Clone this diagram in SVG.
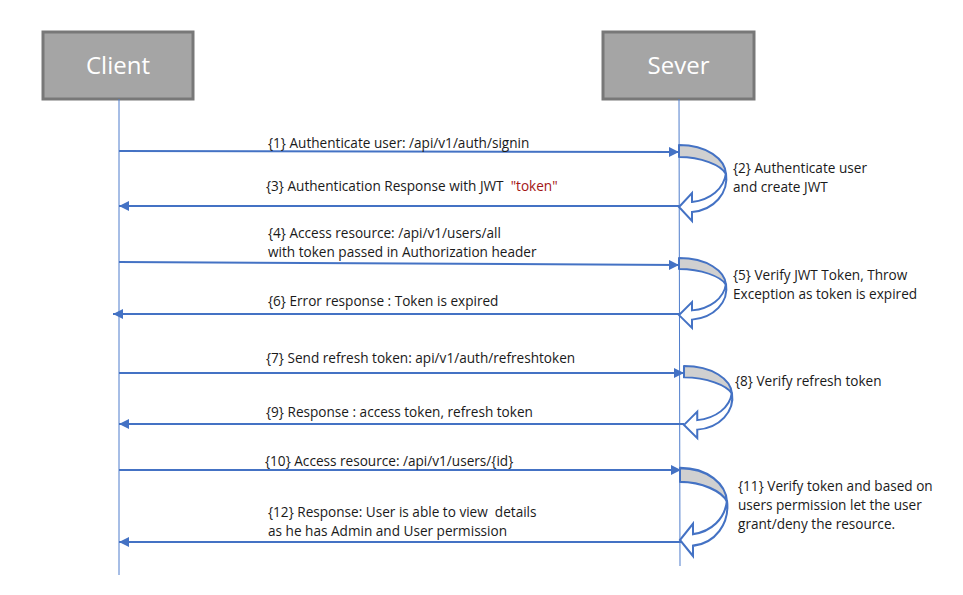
<svg xmlns="http://www.w3.org/2000/svg" width="963" height="595" viewBox="0 0 963 595">
<style>
.box{fill:#a5a5a5;stroke:#787878;stroke-width:3}
.hd{font-family:"Open Sans","Liberation Sans",Arial,sans-serif;font-size:24px;fill:#ffffff;text-anchor:middle}
.life{stroke:#4f7dcc;stroke-width:1}
.msg{stroke:#4472c4;stroke-width:2;fill:none}
.t{font-family:"Open Sans","Liberation Sans",Arial,sans-serif;font-size:13.6px;fill:#1a1a1a;white-space:pre}
.red{fill:#a31515}
.back{fill:#d0d0d0;stroke:#4472c4;stroke-width:2;stroke-linejoin:round}
.front{fill:#ffffff;stroke:#4472c4;stroke-width:2;stroke-linejoin:miter}
</style>
<defs>
<marker id="ah" viewBox="0 0 10 10" refX="10" refY="5" markerWidth="5" markerHeight="5" orient="auto" markerUnits="strokeWidth">
<path d="M0,0 L10,5 L0,10 Z" fill="#4472c4"/>
</marker>
<g id="curl">
<path class="back" d="M0,0 C28,0 46,14 47,29 C42,20 22,12 0,12 Z"/>
<path class="front" d="M47,28 C50,48 35,65 13,67 L13,76 L0,62 L13,48 L13,57 C31,55 45,44 47,28 Z"/>
</g>
</defs>
<rect width="963" height="595" fill="#ffffff"/>
<g id="client">
<rect class="box" x="43" y="32" width="150" height="67"/>
<text class="hd" x="118" y="74">Client</text>
</g>
<g id="server">
<rect class="box" x="603" y="32" width="151" height="67"/>
<text class="hd" x="678.5" y="74">Sever</text>
</g>
<g id="lifelines">
<line class="life" x1="119" y1="99" x2="119" y2="575"/>
<line class="life" x1="679" y1="99" x2="680" y2="566"/>
</g>
<g id="connectors">
<line class="msg" x1="119" y1="151" x2="679" y2="152" marker-end="url(#ah)"/>
<line class="msg" x1="679" y1="206" x2="119" y2="206" marker-end="url(#ah)"/>
<line class="msg" x1="119" y1="262" x2="679" y2="265" marker-end="url(#ah)"/>
<line class="msg" x1="679" y1="314" x2="113" y2="314" marker-end="url(#ah)"/>
<line class="msg" x1="119" y1="373" x2="684" y2="373" marker-end="url(#ah)"/>
<line class="msg" x1="684" y1="424" x2="119" y2="424" marker-end="url(#ah)"/>
<line class="msg" x1="119" y1="470" x2="681" y2="470" marker-end="url(#ah)"/>
<line class="msg" x1="681" y1="542" x2="119" y2="542" marker-end="url(#ah)"/>
</g>
<g id="self2"><use href="#curl" transform="translate(679,145)"/></g>
<g id="self5"><use href="#curl" transform="translate(679,258) scale(1,0.92)"/></g>
<g id="self8"><use href="#curl" transform="translate(684,366) scale(1.02,0.95)"/></g>
<g id="self11"><use href="#curl" transform="translate(680,468) scale(1,1.16)"/></g>
<g id="labels">
<text class="t" x="268" y="148">{1} Authenticate user: /api/v1/auth/signin</text>
<text class="t" x="733" y="173">{2} Authenticate user</text>
<text class="t" x="733" y="192">and create JWT</text>
<text class="t" x="266" y="191">{3} Authentication Response with JWT  <tspan class="red">"token"</tspan></text>
<text class="t" x="268" y="238">{4} Access resource: /api/v1/users/all</text>
<text class="t" x="268" y="257">with token passed in Authorization header</text>
<text class="t" x="733" y="280">{5} Verify JWT Token, Throw</text>
<text class="t" x="733" y="299">Exception as token is expired</text>
<text class="t" x="268" y="306">{6} Error response : Token is expired</text>
<text class="t" x="266" y="363">{7} Send refresh token: api/v1/auth/refreshtoken</text>
<text class="t" x="735" y="386">{8} Verify refresh token</text>
<text class="t" x="266" y="417">{9} Response : access token, refresh token</text>
<text class="t" x="265" y="466">{10} Access resource: /api/v1/users/{id}</text>
<text class="t" x="738" y="491">{11} Verify token and based on</text>
<text class="t" x="738" y="510">users permission let the user</text>
<text class="t" x="738" y="529">grant/deny the resource.</text>
<text class="t" x="268" y="517">{12} Response: User is able to view  details</text>
<text class="t" x="268" y="536">as he has Admin and User permission</text>
</g>
</svg>
